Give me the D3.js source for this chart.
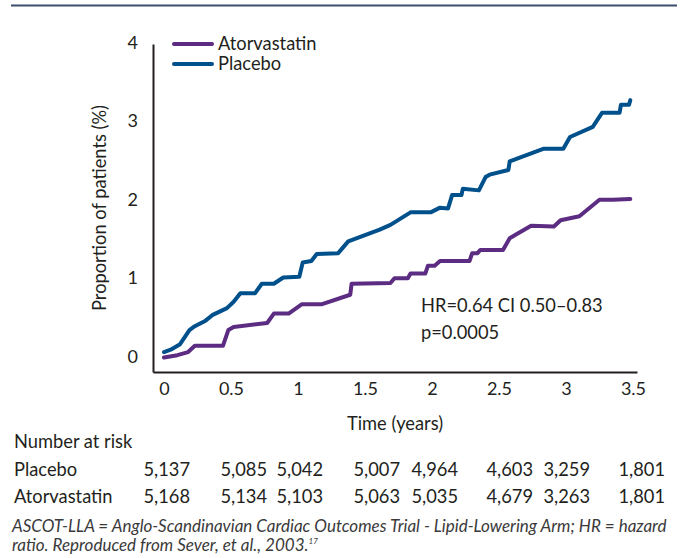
<!DOCTYPE html>
<html lang="en">
<head>
<meta charset="UTF-8">
<title>ASCOT-LLA</title>
<style>
    body { margin: 0; background: #fff; }
    svg text { font-family: Lato, "Noto Sans", sans-serif; fill: #231f20; }
    .tick text { font-size: 18px; }
    .lbl { font-size: 18.3px; }
    .note { font-size: 17px; font-style: italic; fill: #3a3a3a; }
</style>
</head>
<body>
<div id="chart"></div>
<script src="https://d3js.org/d3.v7.min.js"></script>
<script>
    // Kaplan-Meier style curves: [time (years), proportion (%)]
    const placebo = [
        [0.0, 0.05], [0.05, 0.08], [0.12, 0.15], [0.19, 0.33], [0.23, 0.38], [0.31, 0.45],
        [0.36, 0.52], [0.47, 0.61], [0.52, 0.69], [0.57, 0.80], [0.68, 0.80], [0.73, 0.92],
        [0.82, 0.92], [0.89, 1.00], [1.01, 1.01], [1.035, 1.19], [1.10, 1.21], [1.14, 1.30],
        [1.30, 1.31], [1.375, 1.46], [1.61, 1.61], [1.69, 1.67], [1.84, 1.83], [1.99, 1.83],
        [2.06, 1.89], [2.12, 1.88], [2.15, 2.05], [2.22, 2.05], [2.23, 2.13], [2.35, 2.11],
        [2.40, 2.28], [2.43, 2.31], [2.57, 2.37], [2.58, 2.48], [2.83, 2.64], [2.98, 2.64],
        [3.03, 2.79], [3.20, 2.92], [3.27, 3.10], [3.40, 3.10], [3.41, 3.20], [3.47, 3.20],
        [3.48, 3.26]
    ];
    const atorvastatin = [
        [0.0, -0.02], [0.10, 0.01], [0.18, 0.05], [0.23, 0.13], [0.44, 0.13], [0.48, 0.33],
        [0.52, 0.37], [0.77, 0.42], [0.82, 0.54], [0.93, 0.54], [1.03, 0.66], [1.18, 0.66],
        [1.39, 0.78], [1.40, 0.92], [1.69, 0.93], [1.72, 0.99], [1.82, 0.99], [1.84, 1.05],
        [1.95, 1.05], [1.97, 1.15], [2.02, 1.15], [2.06, 1.21], [2.28, 1.21], [2.30, 1.31],
        [2.34, 1.31], [2.36, 1.35], [2.53, 1.35], [2.58, 1.50], [2.63, 1.55], [2.74, 1.66],
        [2.91, 1.65], [2.96, 1.73], [3.10, 1.78], [3.25, 1.99], [3.35, 1.99], [3.48, 2.00]
    ];

    const xTicks = [0, 0.5, 1, 1.5, 2, 2.5, 3, 3.5];
    const yTicks = [0, 1, 2, 3, 4];

    const seriesNames = ["Atorvastatin", "Placebo"];
    const riskPlacebo = ["5,137", "5,085", "5,042", "5,007", "4,964", "4,603", "3,259", "1,801"];
    const riskAtorva = ["5,168", "5,134", "5,103", "5,063", "5,035", "4,679", "3,263", "1,801"];

    const colors = { Atorvastatin: "#5b2c82", Placebo: "#00508c" };

    const W = 685, H = 558;
    const svg = d3.select("#chart").append("svg")
        .attr("width", W).attr("height", H);

    // top rule
    svg.append("line")
        .attr("x1", 11).attr("x2", 677).attr("y1", 5.5).attr("y2", 5.5)
        .attr("stroke", "#3e4d6b").attr("stroke-width", 2);

    const x = d3.scaleLinear().domain([-0.082, 3.53]).range([153, 637]);
    const y = d3.scaleLinear().domain([-0.204, 3.975]).range([372, 44]);

    const xAxis = svg.append("g")
        .attr("transform", "translate(0,372)")
        .call(d3.axisBottom(x).tickValues(xTicks).tickSize(0).tickPadding(10)
            .tickFormat(d => d));
    const yAxis = svg.append("g")
        .attr("transform", "translate(153,0)")
        .call(d3.axisLeft(y).tickValues(yTicks).tickSize(0).tickPadding(15)
            .tickFormat(d => d));

    [xAxis, yAxis].forEach(a => {
        a.select(".domain").attr("stroke", "#231f20").attr("stroke-width", 2);
        a.selectAll(".tick text").attr("fill", "#231f20").attr("font-family", null);
    });
    yAxis.selectAll(".tick text").attr("dy", "0.35em");

    const line = d3.line()
        .x(d => x(d[0]))
        .y(d => y(d[1]));

    [["Atorvastatin", atorvastatin], ["Placebo", placebo]].forEach(([name, data]) => {
        svg.append("path")
            .datum(data)
            .attr("fill", "none")
            .attr("stroke", colors[name])
            .attr("stroke-width", 4)
            .attr("stroke-linejoin", "round")
            .attr("stroke-linecap", "round")
            .attr("d", line);
    });

    // legend
    const legend = svg.selectAll("g.legend")
        .data(seriesNames)
        .enter().append("g")
        .attr("class", "legend")
        .attr("transform", (d, i) => `translate(174,${44 + i * 20})`);
    legend.append("line")
        .attr("x1", 0).attr("x2", 38)
        .attr("stroke", d => colors[d])
        .attr("stroke-width", 4)
        .attr("stroke-linecap", "round");
    legend.append("text")
        .attr("class", "lbl")
        .attr("x", 44).attr("dy", "0.35em")
        .text(d => d);

    // axis titles
    svg.append("text")
        .attr("class", "lbl")
        .attr("text-anchor", "middle")
        .attr("transform", "translate(100,208) rotate(-90)")
        .attr("dy", "0.35em")
        .text("Proportion of patients (%)");
    svg.append("text")
        .attr("class", "lbl")
        .attr("text-anchor", "middle")
        .attr("x", 395).attr("y", 424).attr("dy", "0.35em")
        .text("Time (years)");

    // stats annotation
    svg.append("text").attr("class", "lbl")
        .attr("x", 421).attr("y", 306).attr("dy", "0.35em")
        .text("HR=0.64 CI 0.50\u20130.83");
    svg.append("text").attr("class", "lbl")
        .attr("x", 421).attr("y", 333).attr("dy", "0.35em")
        .text("p=0.0005");

    // number at risk table
    const colRight = [190, 267, 323, 400, 458, 533, 590, 665];
    svg.append("text").attr("class", "lbl")
        .attr("x", 14).attr("y", 442).attr("dy", "0.35em")
        .text("Number at risk");
    [["Placebo", riskPlacebo, 470], ["Atorvastatin", riskAtorva, 497]].forEach(([name, vals, yy]) => {
        svg.append("text").attr("class", "lbl")
            .attr("x", 14).attr("y", yy).attr("dy", "0.35em")
            .text(name);
        svg.selectAll(null)
            .data(vals)
            .enter().append("text")
            .attr("class", "lbl")
            .attr("text-anchor", "end")
            .attr("x", (d, i) => colRight[i])
            .attr("y", yy).attr("dy", "0.35em")
            .text(d => d);
    });

    // footnote
    svg.append("text").attr("class", "note")
        .attr("x", 12).attr("y", 526).attr("dy", "0.35em")
        .text("ASCOT-LLA = Anglo-Scandinavian Cardiac Outcomes Trial - Lipid-Lowering Arm; HR = hazard");
    const fn2 = svg.append("text").attr("class", "note")
        .attr("x", 12).attr("y", 545).attr("dy", "0.35em")
        .text("ratio. Reproduced from Sever, et al., 2003.");
    fn2.append("tspan")
        .attr("font-size", "8px")
        .attr("dy", "-0.9em")
        .text("17");
</script>
</body>
</html>
